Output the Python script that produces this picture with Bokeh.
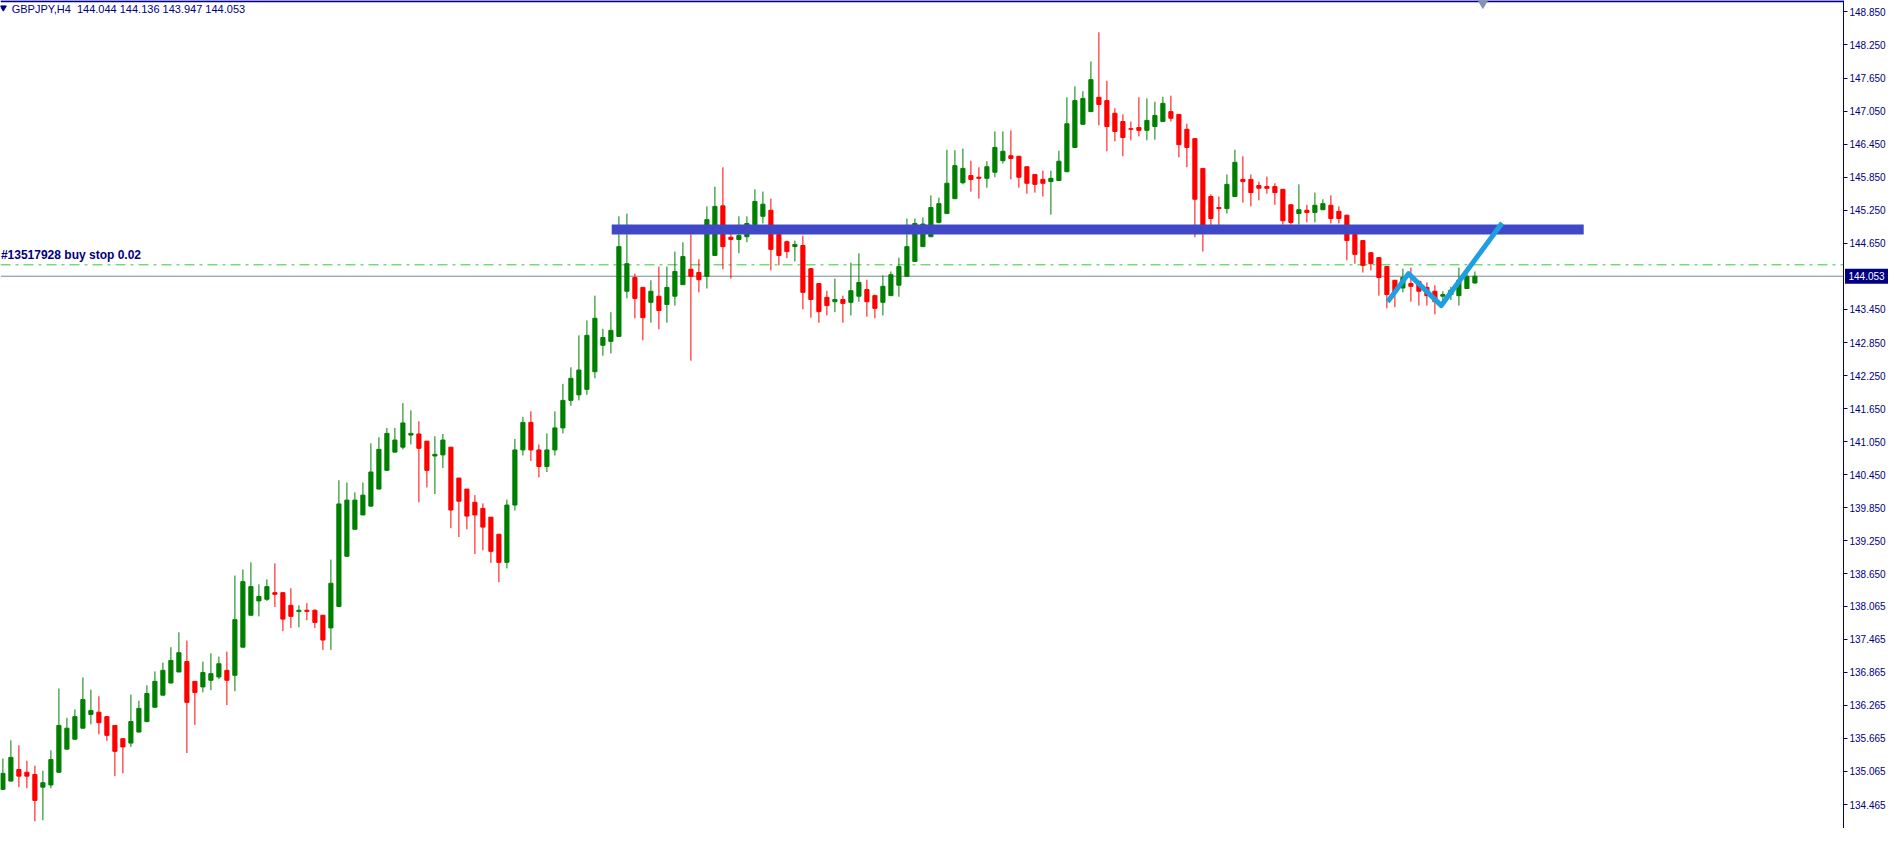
from bokeh.plotting import figure
from bokeh.models import Range1d, FixedTicker, Label, ColumnDataSource
from bokeh.embed import file_html
from bokeh.resources import INLINE
from bokeh.core.properties import value

symbol_title = "GBPJPY,H4\u00a0 144.044 144.136 143.947 144.053"

opens = [134.74, 134.89, 135.10, 135.05, 135.01, 134.78, 134.82, 135.05, 135.47, 135.65,
         135.85, 136.10, 136.14, 136.06, 135.90, 135.66, 135.58, 135.78, 135.97, 136.23,
         136.45, 136.67, 136.87, 137.06, 136.70, 136.60, 136.72, 136.78, 136.90, 136.81,
         137.32, 137.90, 138.16, 138.19, 138.31, 138.31, 138.08, 137.97, 137.99, 137.99,
         137.90, 137.67, 138.06, 138.97, 139.46, 139.72, 139.88, 140.19, 140.53, 140.86,
         140.95, 141.17, 141.19, 141.06, 140.79, 140.81, 140.95, 140.39, 140.19, 139.95,
         139.84, 139.68, 139.37, 138.86, 139.90, 140.90, 141.40, 140.90, 140.60, 140.90,
         141.30, 141.80, 141.90, 142.00, 142.32, 142.80, 142.87, 142.96, 143.78, 144.03,
         143.85, 143.58, 143.69, 143.54, 143.69, 143.90, 144.18, 144.12, 144.05, 144.43,
         145.33, 144.76, 144.72, 144.77, 144.99, 145.14, 145.25, 144.81, 144.68, 144.59,
         144.61, 144.19, 143.92, 143.67, 143.59, 143.63, 143.58, 143.69, 143.81, 143.70,
         143.58, 143.70, 143.89, 144.05, 144.32, 144.59, 144.77, 145.03, 145.19, 145.46,
         145.75, 145.88, 145.85, 145.83, 145.94, 146.15, 146.24, 146.23, 146.04, 145.90,
         145.81, 145.77, 145.79, 145.95, 146.39, 146.81, 147.04, 147.30, 147.24, 147.01,
         146.86, 146.73, 146.75, 146.70, 146.77, 146.86, 147.04, 146.99, 146.72, 146.55,
         146.01, 145.50, 145.30, 145.28, 145.50, 145.81, 145.81, 145.70, 145.68, 145.68,
         145.63, 145.35, 145.19, 145.25, 145.21, 145.26, 145.34, 145.23, 145.16, 144.81,
         144.70, 144.48, 144.39, 144.23, 143.98, 143.84, 143.92, 143.96, 143.85, 143.78,
         143.69, 143.72, 143.70, 143.83, 143.93]
highs = [135.30, 135.63, 135.54, 135.26, 135.17, 135.08, 135.45, 136.57, 136.04, 136.19,
         136.77, 136.55, 136.43, 136.06, 135.90, 135.66, 136.46, 136.35, 136.63, 136.88,
         137.04, 137.32, 137.59, 137.44, 136.70, 137.06, 137.21, 137.15, 137.24, 138.62,
         138.73, 138.86, 138.46, 138.55, 138.84, 138.31, 138.39, 138.08, 138.12, 138.01,
         137.90, 138.91, 140.35, 140.31, 140.13, 140.31, 141.02, 141.13, 141.30, 141.30,
         141.75, 141.62, 141.42, 141.06, 141.15, 141.19, 140.95, 140.39, 140.19, 140.08,
         139.93, 139.68, 139.37, 140.00, 141.10, 141.50, 141.60, 141.00, 141.20, 141.60,
         142.10, 142.40, 142.98, 143.25, 143.70, 143.10, 143.40, 145.14, 145.19, 144.10,
         143.85, 143.98, 144.23, 144.23, 144.50, 144.67, 144.85, 144.36, 145.32, 145.68,
         146.03, 144.92, 145.14, 145.14, 145.63, 145.59, 145.46, 144.81, 144.70, 144.70,
         144.79, 144.19, 143.92, 143.79, 144.01, 143.70, 144.30, 144.47, 143.99, 143.72,
         144.07, 144.14, 144.39, 145.10, 145.10, 145.12, 145.52, 145.48, 146.35, 146.34,
         146.37, 146.15, 146.03, 146.14, 146.68, 146.68, 146.70, 146.23, 146.04, 145.90,
         145.97, 145.97, 146.33, 147.30, 147.50, 147.41, 147.95, 148.48, 147.60, 147.10,
         146.99, 146.86, 147.30, 147.28, 147.22, 147.31, 147.33, 146.99, 146.82, 146.55,
         146.01, 145.54, 145.50, 145.90, 146.35, 146.23, 145.90, 145.77, 145.86, 145.74,
         145.63, 145.35, 145.72, 145.35, 145.57, 145.45, 145.52, 145.32, 145.17, 144.81,
         144.70, 144.48, 144.39, 144.23, 143.98, 144.19, 144.21, 143.96, 143.94, 143.89,
         143.78, 143.86, 144.21, 144.12, 144.14]
lows = [134.73, 134.89, 134.78, 134.76, 134.16, 134.18, 134.76, 135.05, 135.47, 135.65,
        135.85, 135.92, 135.74, 135.62, 134.98, 135.03, 135.51, 135.78, 135.96, 136.23,
        136.45, 136.67, 136.87, 135.40, 135.91, 136.50, 136.54, 136.74, 136.27, 136.52,
        137.32, 137.90, 137.88, 138.16, 138.05, 137.61, 137.67, 137.68, 137.81, 137.67,
        137.27, 137.27, 138.06, 138.97, 139.46, 139.72, 139.88, 140.19, 140.53, 140.86,
        140.91, 141.00, 139.95, 140.22, 140.10, 140.57, 139.48, 139.32, 139.46, 139.01,
        139.08, 138.85, 138.50, 138.75, 139.80, 140.80, 140.70, 140.40, 140.50, 140.80,
        141.20, 141.70, 141.80, 141.90, 142.20, 142.61, 142.65, 142.96, 143.65, 143.29,
        142.89, 143.21, 143.09, 143.21, 143.52, 143.90, 142.52, 143.76, 143.83, 144.43,
        144.18, 144.01, 144.47, 144.67, 144.99, 145.01, 144.16, 144.25, 144.38, 144.32,
        143.45, 143.30, 143.21, 143.34, 143.40, 143.21, 143.34, 143.59, 143.32, 143.29,
        143.34, 143.70, 143.68, 144.05, 144.32, 144.59, 144.77, 145.01, 145.19, 145.46,
        145.72, 145.59, 145.46, 145.66, 145.85, 146.10, 145.81, 145.66, 145.55, 145.57,
        145.50, 145.17, 145.79, 145.95, 146.39, 146.81, 147.04, 146.79, 146.32, 146.50,
        146.23, 146.52, 146.59, 146.52, 146.53, 146.86, 146.86, 146.21, 146.03, 144.76,
        144.50, 144.97, 144.97, 145.19, 145.50, 145.39, 145.32, 145.43, 145.55, 145.35,
        144.99, 144.99, 144.99, 145.03, 145.03, 145.26, 145.01, 145.01, 144.34, 144.28,
        144.12, 144.16, 143.70, 143.47, 143.49, 143.76, 143.59, 143.52, 143.52, 143.36,
        143.62, 143.62, 143.52, 143.83, 143.92]
closes = [135.03, 135.32, 134.98, 134.98, 134.54, 134.86, 135.28, 135.90, 135.85, 136.06,
          136.37, 136.17, 135.95, 135.72, 135.43, 135.51, 135.97, 136.21, 136.48, 136.70,
          136.90, 137.08, 137.22, 136.32, 136.50, 136.86, 136.84, 137.02, 136.72, 137.82,
          138.51, 138.42, 138.24, 138.42, 138.28, 137.83, 137.88, 137.99, 137.97, 137.77,
          137.45, 138.48, 139.92, 139.99, 139.99, 140.08, 140.50, 140.91, 141.20, 141.08,
          141.39, 141.20, 140.93, 140.53, 140.82, 141.08, 139.81, 139.97, 139.70, 139.72,
          139.50, 139.06, 138.86, 139.90, 140.90, 141.40, 140.90, 140.60, 140.90, 141.30,
          141.80, 142.20, 142.35, 142.98, 143.29, 142.94, 143.07, 144.59, 144.28, 143.65,
          143.30, 143.78, 143.43, 143.85, 144.14, 144.41, 144.05, 143.99, 145.08, 145.32,
          144.59, 144.72, 144.79, 145.01, 145.41, 145.36, 144.54, 144.43, 144.50, 144.63,
          143.76, 143.63, 143.41, 143.52, 143.63, 143.56, 143.79, 143.94, 143.59, 143.47,
          143.87, 144.08, 144.23, 144.59, 145.01, 145.00, 145.30, 145.37, 145.74, 146.06,
          146.01, 145.81, 145.83, 146.04, 146.39, 146.32, 146.19, 145.85, 145.74, 145.72,
          145.74, 145.83, 146.14, 146.82, 147.24, 147.28, 147.62, 147.17, 146.77, 146.68,
          146.57, 146.72, 146.70, 146.88, 146.97, 147.19, 146.92, 146.44, 146.39, 145.45,
          144.91, 145.10, 145.28, 145.72, 146.12, 145.77, 145.57, 145.65, 145.65, 145.57,
          145.06, 145.03, 145.26, 145.21, 145.34, 145.37, 145.10, 145.10, 144.70, 144.45,
          144.25, 144.28, 144.03, 143.72, 143.76, 144.03, 143.87, 143.78, 143.70, 143.59,
          143.72, 143.80, 143.98, 144.05, 144.053]

price_ticks = [148.850, 148.250, 147.650, 147.050, 146.450, 145.850, 145.250, 144.650,
               143.450, 142.850, 142.250, 141.650, 141.050, 140.450, 139.850,
               139.250, 138.650, 138.065, 137.465, 136.865, 136.265, 135.665, 135.065,
               134.465]

current_price = 144.053
buy_stop_price = 144.26
buy_stop_text = "#13517928 buy stop 0.02"
level_x = [76.1, 197.6]
level_y = [144.90, 144.90]
zigzag_x = [173.1, 175.7, 179.8, 187.4]
zigzag_y = [143.59, 144.10, 143.52, 145.02]
shift_marker_x = 185.0

NAVY = "#000080"
GREEN = "#008000"
RED = "#FF0000"

n = len(opens)
idx = list(range(n))
colors = [GREEN if c >= o else RED for o, c in zip(opens, closes)]
tops = [max(o, c) for o, c in zip(opens, closes)]
bots = [min(o, c) for o, c in zip(opens, closes)]
src = ColumnDataSource(dict(x=idx, o=opens, h=highs, l=lows, c=closes,
                            top=tops, bot=bots, color=colors))

PX_PER_PRICE = 55.1
PX_PER_BAR = 8.0
FIG_W = 1888
FIG_H = 828
AXIS_PX = 1843          # where the price scale line sits, in figure pixels
Y_TOP = 149.057
Y_BOT = Y_TOP - FIG_H / PX_PER_PRICE
X_START = -0.3
X_END = X_START + FIG_W / PX_PER_BAR
AXIS_X = X_START + AXIS_PX / PX_PER_BAR

p = figure(width=FIG_W, height=FIG_H, output_backend="svg", toolbar_location=None,
           x_range=Range1d(X_START, X_END), y_range=Range1d(Y_BOT, Y_TOP),
           y_axis_location="right", x_axis_location=None,
           min_border_left=0, min_border_top=0, min_border_bottom=0, min_border_right=0)
p.background_fill_color = "white"
p.border_fill_color = "white"
p.outline_line_color = None
p.grid.visible = False

ax = p.yaxis[0]
ax.fixed_location = AXIS_X
ax.ticker = FixedTicker(ticks=price_ticks)
ax.major_label_overrides = {t: f"{t:.3f}" for t in price_ticks}
ax.axis_line_color = NAVY
ax.axis_line_width = 1
ax.major_tick_line_color = NAVY
ax.major_tick_out = 4
ax.major_tick_in = 0
ax.minor_tick_line_color = None
ax.major_label_text_color = NAVY
ax.major_label_text_font = "Liberation Sans"
ax.major_label_text_font_size = "10px"
ax.major_label_standoff = 2

# top border of the chart window
p.segment(x0=[X_START], y0=[Y_TOP - 0.012], x1=[AXIS_X], y1=[Y_TOP - 0.012],
          line_color=NAVY, line_width=2)

# current price line and pending buy stop line
p.segment(x0=[X_START], y0=[current_price], x1=[AXIS_X], y1=[current_price],
          line_color="#778899", line_width=1)
p.segment(x0=[X_START], y0=[buy_stop_price], x1=[AXIS_X], y1=[buy_stop_price],
          line_color="#32CD32", line_width=1, line_dash="10 5 3 5")

# candles
p.segment(x0="x", y0="l", x1="x", y1="h", color="color", line_width=1, source=src)
p.vbar(x="x", width=0.52, top="top", bottom="bot", fill_color="color",
       line_color="color", line_width=1, source=src)

# horizontal level (thick blue)
p.line(level_x, level_y, line_color="#4048C8", line_width=10, line_cap="butt")

# zigzag
p.line(zigzag_x, zigzag_y, line_color="#1E9FE3", line_width=5, line_join="round")

# shift marker
p.scatter([shift_marker_x], [Y_TOP - 0.05], marker="inverted_triangle", size=9,
          fill_color="#7F93B5", line_color="#7F93B5")

# title
p.scatter([X_START + 0.35], [Y_TOP - 0.13], marker="inverted_triangle", size=6,
          fill_color=NAVY, line_color=NAVY)
p.add_layout(Label(x=X_START + 1.4, y=Y_TOP - 0.04, text=symbol_title,
                   text_color=NAVY, text_font="Liberation Sans", text_font_size="11px",
                   text_baseline="top", text_align="left"))

# buy stop label
p.add_layout(Label(x=X_START + 0.05, y=buy_stop_price + 0.06, text=buy_stop_text,
                   text_color=NAVY, text_font="Liberation Sans", text_font_size="12px",
                   text_font_style="bold", text_baseline="bottom", text_align="left"))

# current price box on the price scale
box_half = 7.5 / PX_PER_PRICE
p.quad(left=[AXIS_X + 1.5 / PX_PER_BAR], right=[X_END], top=[current_price + box_half],
       bottom=[current_price - box_half], fill_color=NAVY, line_color=None)
p.text(x=[AXIS_X + 5 / PX_PER_BAR], y=[current_price], text=[f"{current_price:.3f}"],
       text_color="white", text_font=value("Liberation Sans"), text_font_size="10px",
       text_baseline="middle", text_align="left")

open("out.html", "w").write(file_html(p, INLINE))
